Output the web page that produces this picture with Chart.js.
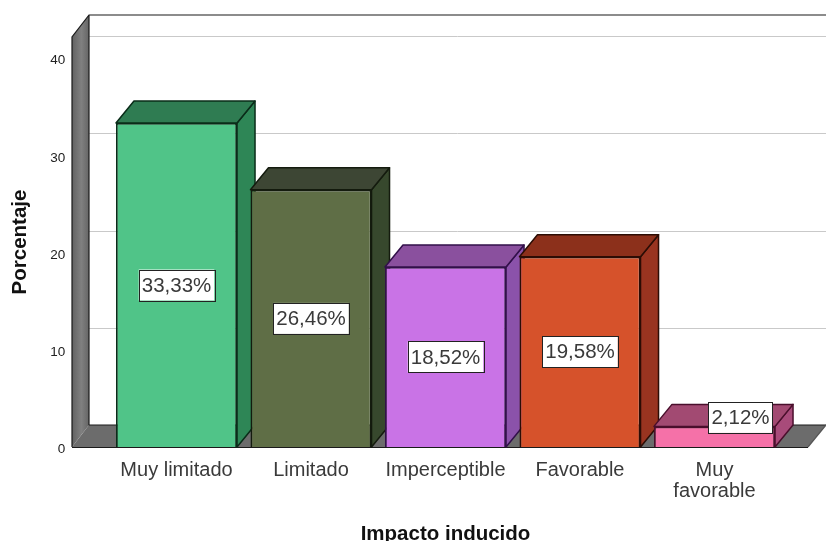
<!DOCTYPE html>
<html><head><meta charset="utf-8">
<style>html,body{margin:0;padding:0;background:#fff}canvas{display:block}</style>
<script src="https://cdn.jsdelivr.net/npm/chart.js@4/dist/chart.umd.min.js"></script>
</head><body><canvas id="c" width="826" height="541"></canvas>
<script>
const categories = ["Muy limitado","Limitado","Imperceptible","Favorable",["Muy","favorable"]];
const values = [33.33,26.46,18.52,19.58,2.12];
const valueLabels = ["33,33%","26,46%","18,52%","19,58%","2,12%"];
const yTicks = [0,10,20,30,40];
const frontColors = ["#50c488","#5f6e46","#c973e6","#d6522b","#f571a8"];
const topColors = ["#2f7c52","#3d4634","#8a509e","#8c301b","#a24a72"];
const sideColors = ["#2e8656","#37482d","#8b52aa","#993420","#a84b7a"];
const edgeColors = ["#0a2c19","#141b0e","#32104a","#2c0d05","#4a0f2c"];
const DX = 18, DY = 22;

function poly(ctx, pts, fill, stroke, lw){
  ctx.beginPath();
  pts.forEach((p,i)=> i?ctx.lineTo(p[0],p[1]):ctx.moveTo(p[0],p[1]));
  ctx.closePath();
  if(fill){ctx.fillStyle=fill;ctx.fill();}
  if(stroke){ctx.strokeStyle=stroke;ctx.lineWidth=lw||1;ctx.stroke();}
}
const scene3d = {
  id:'scene3d',
  beforeDraw(chart){
    const ctx=chart.ctx, y=chart.scales.y, a=chart.chartArea;
    const L=72, R=808, T=a.top, B=a.bottom;
    ctx.save();
    ctx.fillStyle='#fff';ctx.fillRect(0,0,chart.width,chart.height);
    ctx.strokeStyle='#c9c9c9';ctx.lineWidth=1;
    yTicks.slice(1).forEach(v=>{
      const py=Math.round(y.getPixelForValue(v))-DY+0.5;
      ctx.beginPath();ctx.moveTo(L+DX-1,py);ctx.lineTo(chart.width,py);ctx.stroke();
    });
    poly(ctx,[[L,B],[L+DX-1,B-DY],[R+DX,B-DY],[R,B]],'#6c6c6c',null);
    const g=ctx.createLinearGradient(L,0,L+DX-1,0);
    g.addColorStop(0,'#626262');g.addColorStop(0.55,'#808080');g.addColorStop(1,'#656565');
    poly(ctx,[[L,T],[L+DX-1,T-DY],[L+DX-1,B-DY],[L,B]],g,null);
    ctx.strokeStyle='#1a1a1a';ctx.lineWidth=1.2;
    ctx.beginPath();ctx.moveTo(L,B);ctx.lineTo(L,T);ctx.lineTo(L+DX-1,T-DY);ctx.lineTo(chart.width,T-DY);ctx.moveTo(L+DX-1,T-DY);ctx.lineTo(L+DX-1,B-DY);ctx.lineTo(chart.width,B-DY);ctx.stroke();
    ctx.strokeStyle='#555';ctx.beginPath();ctx.moveTo(R+DX,B-DY);ctx.lineTo(R,B);ctx.stroke();
    ctx.strokeStyle='#1a1a1a';ctx.beginPath();ctx.moveTo(L,B+0.5);ctx.lineTo(R,B+0.5);ctx.stroke();
    ctx.restore();
  },
  beforeDatasetsDraw(chart){
    const ctx=chart.ctx;
    ctx.save();
    ctx.lineJoin='round';
    chart.getDatasetMeta(0).data.forEach((bar,i)=>{
      const l=bar.x-bar.width/2, r=bar.x+bar.width/2, t=bar.y, b=bar.base;
      poly(ctx,[[r,t],[r+DX,t-DY],[r+DX,b-DY],[r,b]],sideColors[i],edgeColors[i],1.5);
      poly(ctx,[[l,t],[l+DX,t-DY],[r+DX,t-DY],[r,t]],topColors[i],edgeColors[i],1.5);
    });
    ctx.restore();
  },
  afterDatasetsDraw(chart){
    const ctx=chart.ctx;
    ctx.save();
    ctx.font='20.5px "Liberation Sans"';
    ctx.textAlign='center';ctx.textBaseline='middle';
    chart.getDatasetMeta(0).data.forEach((bar,i)=>{
      const h=bar.base-bar.y, boxH=31, pad=3;
      const w=ctx.measureText(valueLabels[i]).width+pad*2;
      const short=h<boxH;
      const cx=short?bar.x+26:bar.x, cy=short?bar.y-9:(bar.y+bar.base)/2;
      ctx.fillStyle='#fff';ctx.fillRect(cx-w/2,cy-boxH/2,w,boxH);
      ctx.strokeStyle='#222';ctx.lineWidth=1;ctx.strokeRect(Math.round(cx-w/2)+.5,Math.round(cy-boxH/2)+.5,Math.round(w),boxH);
      ctx.fillStyle='#3a3a3a';ctx.fillText(valueLabels[i],cx,cy+1);
    });
    ctx.restore();
  }
};
new Chart(document.getElementById('c'),{
  type:'bar',
  data:{labels:categories,datasets:[{data:values,backgroundColor:frontColors,borderColor:edgeColors,borderWidth:1.8,barPercentage:0.9,categoryPercentage:1}]},
  plugins:[scene3d],
  options:{
    responsive:false,animation:false,events:[],
    layout:{padding:{top:37,right:44.25,left:0,bottom:0}},
    plugins:{legend:{display:false},tooltip:{enabled:false},title:{display:false}},
    scales:{
      x:{
        grid:{display:false},border:{display:false},
        afterFit(s){s.height=94;},
        ticks:{autoSkip:false,maxRotation:0,minRotation:0,color:'#3a3a3a',padding:5,font:{family:'"Liberation Sans"',size:20,lineHeight:1.05}},
        title:{display:true,text:'Impacto inducido',color:'#111',font:{family:'"Liberation Sans"',size:20.5,weight:'bold'},padding:{top:0,bottom:-6}}
      },
      y:{
        min:0,max:42.18,
        grid:{display:false},border:{display:false},
        afterFit(s){s.width=109.25;s.paddingTop=0;s.paddingBottom=0;},
        afterBuildTicks(s){s.ticks=yTicks.map(v=>({value:v}));},
        ticks:{color:'#222',padding:36,labelOffset:2.5,font:{family:'"Liberation Sans"',size:13.5}},
        title:{display:true,text:'Porcentaje',color:'#111',font:{family:'"Liberation Sans"',size:20.5,weight:'bold'},padding:{top:8,bottom:0}}
      }
    }
  }
});
</script></body></html>
